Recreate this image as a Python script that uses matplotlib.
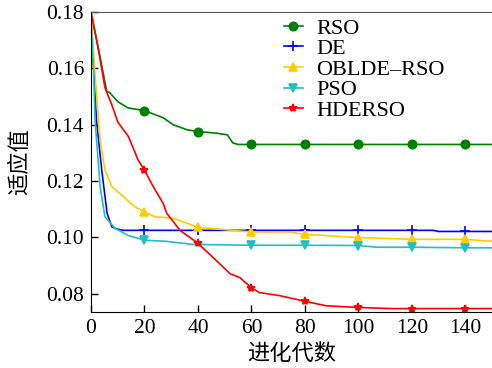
import matplotlib
matplotlib.use('Agg')
import matplotlib.pyplot as plt

plt.rcParams['font.family'] = ['Liberation Serif', 'Noto Sans CJK SC']

marks = [20, 40, 60, 80, 100, 120, 140]

rso_x = [0, 0.7, 3.4, 5.9, 7, 10, 13.8, 20, 27, 30.7, 36, 40, 47, 51, 53, 55,
         60, 80, 100, 120, 140, 150]
rso_y = [0.18, 0.1768, 0.164, 0.1518, 0.1514, 0.1482, 0.146, 0.145, 0.1425,
         0.140, 0.1382, 0.1376, 0.137, 0.1364, 0.1336, 0.133,
         0.133, 0.133, 0.133, 0.133, 0.133, 0.133]

de_x = [0, 1, 2, 4, 6, 7.8, 10, 12, 20, 40, 60, 80, 100, 120, 128, 130, 140, 150]
de_y = [0.178, 0.16, 0.142, 0.124, 0.1086, 0.1037, 0.1029, 0.1025, 0.1025,
        0.1025, 0.1025, 0.1025, 0.1025, 0.1025, 0.1025, 0.1021, 0.1021, 0.1021]

obl_x = [0, 1, 2.2, 3.4, 5.2, 7.8, 11.5, 16.4, 20, 24, 30.7, 36, 40, 53, 60,
         74, 80, 92, 100, 112, 120, 140, 148, 150]
obl_y = [0.18, 0.165, 0.149, 0.1346, 0.1239, 0.118, 0.115, 0.1108, 0.109,
         0.1073, 0.1068, 0.105, 0.1036, 0.1025, 0.1019, 0.1019, 0.1011,
         0.1004, 0.0999, 0.0996, 0.0993, 0.0993, 0.0987, 0.0987]

pso_x = [0, 1, 1.5, 3.4, 5.2, 9, 13.8, 20, 28, 38, 60, 80, 100, 107, 120, 140, 150]
pso_y = [0.177, 0.158, 0.1418, 0.118, 0.1073, 0.1032, 0.1007, 0.099, 0.0986,
         0.0975, 0.0972, 0.0972, 0.0971, 0.0965, 0.0965, 0.0963, 0.0963]

hde_x = [0, 2.6, 5.2, 7.8, 10, 14, 17.6, 20, 22.7, 27, 28.3, 33.3, 40, 45.6,
         52, 55.7, 60, 63, 70.6, 80, 88, 100, 113, 120, 140, 150]
hde_y = [0.18, 0.1675, 0.1532, 0.147, 0.141, 0.1358, 0.1275, 0.1239, 0.119,
         0.112, 0.1086, 0.1025, 0.0979, 0.0929, 0.0871, 0.0857, 0.0821, 0.0804,
         0.0793, 0.0773, 0.0757, 0.0751, 0.0747, 0.0747, 0.0747, 0.0747]

series = [
    ('RSO', rso_x, rso_y, '#008000', 'o', 6),
    ('DE', de_x, de_y, '#0000ff', '+', 7),
    ('OBLDE\u2013RSO', obl_x, obl_y, '#ffcc00', '^', 6),
    ('PSO', pso_x, pso_y, '#20c0c0', 'v', 6),
    ('HDERSO', hde_x, hde_y, '#ff0000', '*', 6),
]

fig = plt.figure(figsize=(4.92, 3.68), dpi=100)
ax = fig.add_axes([0.185, 0.153, 0.815, 0.814])

for name, xs, ys, col, mk, ms in series:
    idx = [i for i, v in enumerate(xs) if v in marks]
    ax.plot(xs, ys, color=col, lw=1.2, marker=mk, ms=ms, markevery=idx,
            mew=1.2, label=name)

ax.set_xlim(0, 150)
ax.set_ylim(0.0736, 0.18)
ax.set_xticks([0, 20, 40, 60, 80, 100, 120, 140])
ax.set_yticks([0.08, 0.10, 0.12, 0.14, 0.16, 0.18])
ax.set_yticklabels(['0.08', '0.10', '0.12', '0.14', '0.16', '0.18'])
ax.tick_params(direction='in', length=5, width=1, labelsize=15.5,
               top=False, right=False, pad=5)
ax.spines['right'].set_visible(False)
ax.spines['top'].set_color('#555555')
ax.spines['top'].set_linewidth(0.8)

ax.set_xlabel('进化代数', fontsize=16, family=['Noto Sans CJK SC'], labelpad=3)
ax.set_ylabel('适应值', fontsize=16, family=['Noto Sans CJK SC'], labelpad=11)

ax.legend(loc='upper left', bbox_to_anchor=(0.47, 0.995), frameon=False,
          fontsize=16, handlelength=0.85, handletextpad=0.6, labelspacing=0.0,
          borderaxespad=0.0, borderpad=0.2)

fig.savefig('out.png', dpi=100)
